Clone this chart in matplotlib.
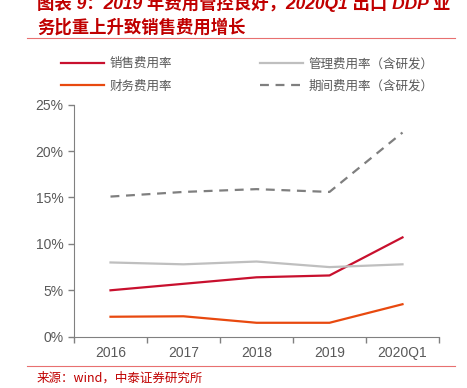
import matplotlib.pyplot as plt
from matplotlib.lines import Line2D

plt.rcParams['font.family'] = ['Liberation Sans', 'Noto Sans CJK SC', 'DejaVu Sans']

# 数据
categories = ['2016', '2017', '2018', '2019', '2020Q1']
sales_rate = [5.0, 5.7, 6.4, 6.6, 10.7]
admin_rate = [8.0, 7.8, 8.1, 7.5, 7.8]
finance_rate = [2.15, 2.2, 1.5, 1.5, 3.5]
period_rate = [15.1, 15.6, 15.9, 15.6, 22.0]
yticks = [0, 5, 10, 15, 20, 25]

W, H = 467, 388
fig = plt.figure(figsize=(W / 100, H / 100), dpi=100)
ax = fig.add_axes([74 / W, 1 - 336.7 / H, 365 / W, 232 / H])

x = list(range(len(categories)))
ax.plot(x, sales_rate, color='#C8102E', lw=1.6, label='销售费用率')
ax.plot(x, finance_rate, color='#E8490F', lw=1.6, label='财务费用率')
ax.plot(x, admin_rate, color='#BFBFBF', lw=1.6, label='管理费用率（含研发）')
ax.plot(x, period_rate, color='#7F7F7F', lw=1.6, ls=(0, (4, 3)), label='期间费用率（含研发）')

ax.set_xlim(-0.5, len(categories) - 0.5)
ax.set_ylim(0, 25)
ax.set_yticks(yticks)
ax.set_yticklabels([f'{v}%' for v in yticks])
ax.set_xticks([i - 0.5 for i in range(len(categories) + 1)])
ax.set_xticklabels([])
ax.set_xticks(x, minor=True)
ax.set_xticklabels(categories, minor=True)
ax.tick_params(axis='x', which='minor', length=0, pad=7)
ax.tick_params(axis='both', which='major', length=4, color='#808080', width=1)
ax.tick_params(labelsize=10, labelcolor='#595959', which='both')
for s in ['top', 'right']:
    ax.spines[s].set_visible(False)
for s in ['left', 'bottom']:
    ax.spines[s].set_color('#808080')

leg = fig.legend(loc='upper left', bbox_to_anchor=(50 / W, 1 - 46 / H), ncol=2, frameon=False,
                 handlelength=3.4, handletextpad=0.5, columnspacing=7.0, labelspacing=0.75,
                 prop={'family': ['Noto Sans CJK SC'], 'size': 9})
for t in leg.get_texts():
    t.set_color('#595959')

# 标题
title_kw = dict(color='#C00000', fontsize=12.5, fontweight='bold', style='italic',
                family=['Liberation Sans', 'Noto Sans CJK SC'])
fig.text(37 / W, 1 - 3 / H, '图表 9：2019 年费用管控良好，2020Q1 出口 DDP 业', va='center', **title_kw)
fig.text(37 / W, 1 - 27 / H, '务比重上升致销售费用增长', va='center', **title_kw)
fig.add_artist(Line2D([27 / W, 455 / W], [1 - 38 / H, 1 - 38 / H], color='#E87070', lw=0.8))
fig.add_artist(Line2D([27 / W, 455 / W], [1 - 366 / H, 1 - 366 / H], color='#E87070', lw=0.8))
fig.text(37 / W, 1 - 378 / H, '来源：wind，中泰证券研究所', va='center', color='#C00000', fontsize=9,
         family=['Noto Sans CJK SC'])

fig.savefig('out.png', dpi=100)
